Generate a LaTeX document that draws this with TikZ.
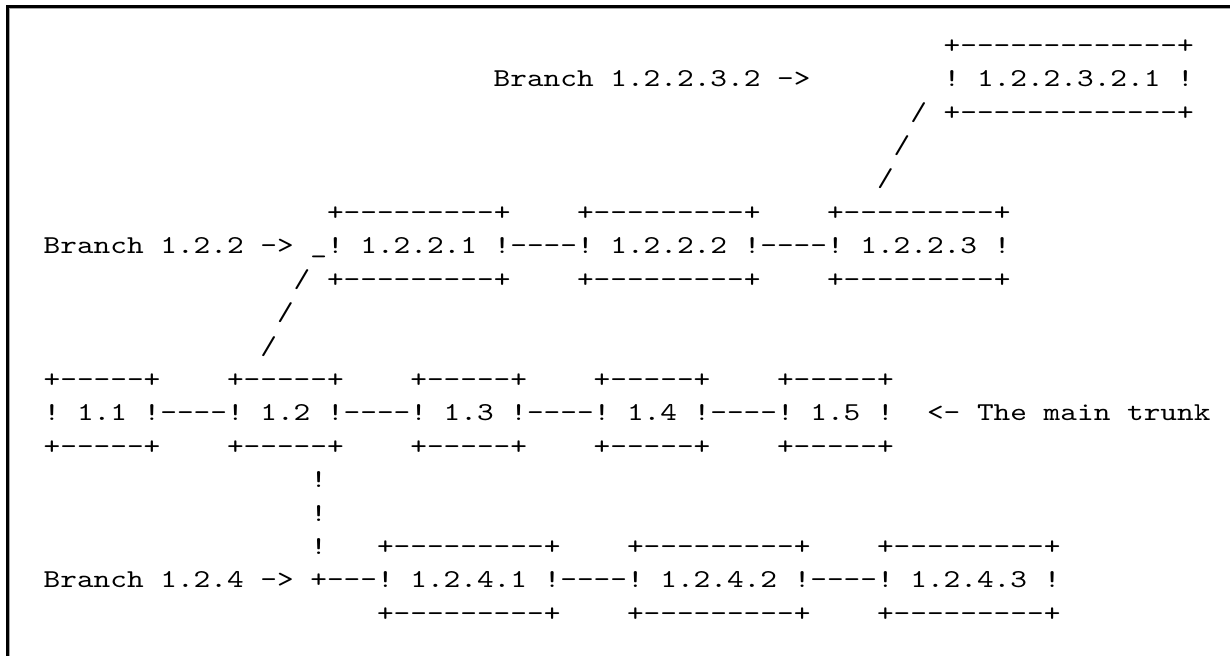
\documentclass[tikz,border=0pt]{standalone}
\usepackage{fontspec}
\setmonofont{lmmono10-regular.otf}[FakeStretch=1.234]
\frenchspacing
\tikzset{
  asc/.style={anchor=base west, inner sep=0pt, outer sep=0pt,
    font=\ttfamily\fontsize{19.3pt}{25pt}\selectfont, text=black},
  frameline/.style={line width=1.6pt, draw=black},
  frameshade/.style={line width=0.8pt, draw=black!35},
}
\begin{document}
\begin{tikzpicture}[x=0.75pt,y=-0.75pt]
\useasboundingbox (0,0) rectangle (1230,656);
\fill[white] (0,0) rectangle (1230,656);
% window frame (left and top only)
\coordinate (fbl) at (7.5,656);
\coordinate (ftl) at (7.5,6.5);
\coordinate (ftr) at (1230,6.5);
\coordinate (gbl) at (9.5,656);
\coordinate (gtl) at (9.5,8.5);
\coordinate (gtr) at (1230,8.5);
\draw[frameshade] (gbl) -- (gtl) -- (gtr);
\draw[frameline] (fbl) -- (ftl) -- (ftr);

\begin{scope}[shift={(43.7,53.3)}, x=12.5pt, y=-25.06pt]
% row 1-5: branch 1.2.2.3.2
\node[asc] (b123221t) at (54,0) {+-------------+};
\node[asc] (lab12232) at (27,1) {Branch 1.2.2.3.2 ->};
\node[asc] (b123221) at (54,1) {! 1.2.2.3.2.1 !};
\node[asc] (sa1) at (52,2) {/};
\node[asc] (b123221b) at (54,2) {+-------------+};
\node[asc] (sa2) at (51,3) {/};
\node[asc] (sa3) at (50,4) {/};
% rows 6-8: branch 1.2.2
\node[asc] (b1221t) at (17,5) {+---------+};
\node[asc] (b1222t) at (32,5) {+---------+};
\node[asc] (b1223t) at (47,5) {+---------+};
\node[asc] (lab122) at (0,6) {Branch 1.2.2 ->};
\node[asc] (us) at (16,6) {\_};
\node[asc] (b1221) at (17,6) {! 1.2.2.1 !};
\node[asc] (c1) at (28,6) {----};
\node[asc] (b1222) at (32,6) {! 1.2.2.2 !};
\node[asc] (c2) at (43,6) {----};
\node[asc] (b1223) at (47,6) {! 1.2.2.3 !};
\node[asc] (sb1) at (15,7) {/};
\node[asc] (b1221b) at (17,7) {+---------+};
\node[asc] (b1222b) at (32,7) {+---------+};
\node[asc] (b1223b) at (47,7) {+---------+};
\node[asc] (sb2) at (14,8) {/};
\node[asc] (sb3) at (13,9) {/};
% rows 11-13: main trunk
\foreach \c/\n in {0/11,11/12,22/13,33/14,44/15}{
  \node[asc] (b\n t) at (\c,10) {+-----+};
  \node[asc] (b\n b) at (\c,12) {+-----+};
}
\node[asc] (b11) at (0,11) {! 1.1 !};
\node[asc] (m1) at (7,11) {----};
\node[asc] (b12) at (11,11) {! 1.2 !};
\node[asc] (m2) at (18,11) {----};
\node[asc] (b13) at (22,11) {! 1.3 !};
\node[asc] (m3) at (29,11) {----};
\node[asc] (b14) at (33,11) {! 1.4 !};
\node[asc] (m4) at (40,11) {----};
\node[asc] (b15) at (44,11) {! 1.5 !};
\node[asc] (trunk) at (53,11) {<- The main trunk};
% rows 14-18: branch 1.2.4
\node[asc] (v1) at (16,13) {!};
\node[asc] (v2) at (16,14) {!};
\node[asc] (v3) at (16,15) {!};
\node[asc] (b1241t) at (20,15) {+---------+};
\node[asc] (b1242t) at (35,15) {+---------+};
\node[asc] (b1243t) at (50,15) {+---------+};
\node[asc] (lab124) at (0,16) {Branch 1.2.4 ->};
\node[asc] (j1) at (16,16) {+---};
\node[asc] (b1241) at (20,16) {! 1.2.4.1 !};
\node[asc] (d1) at (31,16) {----};
\node[asc] (b1242) at (35,16) {! 1.2.4.2 !};
\node[asc] (d2) at (46,16) {----};
\node[asc] (b1243) at (50,16) {! 1.2.4.3 !};
\node[asc] (b1241b) at (20,17) {+---------+};
\node[asc] (b1242b) at (35,17) {+---------+};
\node[asc] (b1243b) at (50,17) {+---------+};
\end{scope}
\end{tikzpicture}
\end{document}
